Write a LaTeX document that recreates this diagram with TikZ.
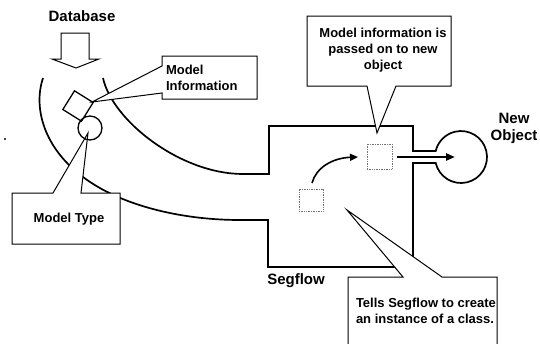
\documentclass[tikz,border=0pt]{standalone}
\usepackage{fontspec}
\setmainfont{Liberation Sans}
\usetikzlibrary{arrows.meta}
\begin{document}
\begin{tikzpicture}[x=1pt,y=-1pt,
  every node/.style={inner sep=0pt,outer sep=0pt},
  wall/.style={draw=black,line width=1.7pt,line join=miter},
  callout/.style={draw=black,fill=white,line width=1pt,line join=miter},
  slot/.style={draw=black!55,line width=0.7pt,densely dotted},
  bigtext/.style={font=\fontsize{15}{17}\selectfont\bfseries,align=center},
  smalltext/.style={font=\fontsize{13}{16}\selectfont\bfseries}]
\useasboundingbox (0,0) rectangle (540,343);

% Database feed arrow
\node[bigtext] (dbl) at (82,16) {Database};
\draw[line width=1pt,fill=white] (61,33) -- (89,33) -- (89,59) -- (99,59) -- (76,68)
  -- (52,59) -- (61,59) -- cycle;

% Segflow outline: database ring feeding the box, with the neck to the new object
\coordinate (ringOut) at (43,78);
\coordinate (ringIn) at (103,78);
\draw[wall] (ringOut) .. controls (33,108) and (44,148) .. (83,177)
  .. controls (120,205) and (180,220) .. (240,220)
  -- (268,220) -- (268,267) -- (413,267) -- (413,163) -- (435.7,163)
  arc[start angle=166.7,end angle=-166.7,radius=26]
  -- (413,151) -- (413,126) -- (269,126) -- (269,174) -- (243,174)
  .. controls (180,174) and (112,120) .. (ringIn);
\coordinate (objc) at (461,157);

% Instances inside Segflow
\node[slot,minimum width=24pt,minimum height=22pt] (cls) at (311,200) {};
\node[slot,minimum width=25pt,minimum height=25pt] (inst) at (379.5,156.5) {};
\draw[line width=1.6pt,-{Triangle[length=8pt,width=7pt]}]
  (312,183) .. controls (316,168) and (332,158) .. (358,157);
\coordinate (neckEnd) at (455,157);
\draw[line width=2.2pt,-{Triangle[length=9pt,width=7pt]}] (397,157) -- (neckEnd);

% Labels
\node[bigtext] (seg) at (296,281) {Segflow};
\node[bigtext] (newobj) at (514,128) {New\\Object};

% Callouts
\draw[callout] (307,16) -- (451,16) -- (451,86) -- (396,86) -- (377,133) -- (367,86)
  -- (307,86) -- cycle;
\node[smalltext,align=center] (passed) at (383,50)
  {Model information is\\passed on to new\\object};

\draw[callout] (162,56) -- (257,56) -- (257,99) -- (162,99) -- (162,93) -- (92,102)
  -- (162,66) -- cycle;
\node[smalltext,align=left,anchor=west] (minfo) at (166,78) {Model\\Information};

\draw[callout] (12,193) -- (53,193) -- (88,133) -- (81,193) -- (120,193) -- (120,244)
  -- (12,244) -- cycle;
\node[smalltext] (mtype) at (69,219) {Model Type};

\draw[callout] (348,277) -- (403,277) -- (347,210) -- (442,277) -- (497,277)
  -- (497,346) -- (348,346) -- cycle;
\node[smalltext,align=left,anchor=west] (tells) at (356,311)
  {Tells Segflow to create\\an instance of a class.};

% Model information (square) and model type (circle)
\draw[line width=1.3pt,rotate around={-32:(78,106)}] (67,95) rectangle (89,117);
\draw[line width=1.3pt] (90,128) circle[radius=12];

% stray mark
\fill (5,139) circle[radius=1.1];
\end{tikzpicture}
\end{document}
